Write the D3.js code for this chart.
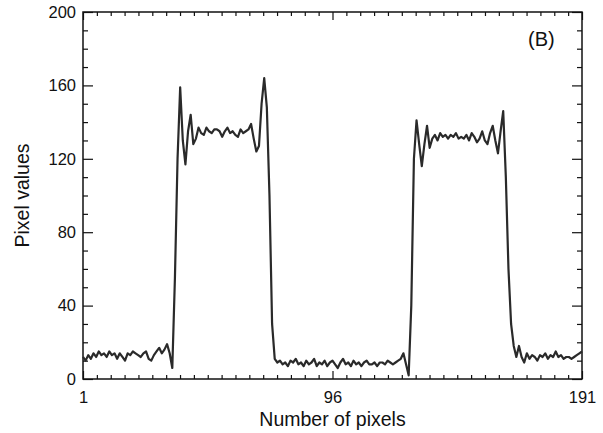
<!DOCTYPE html>
<html>
<head>
<meta charset="utf-8">
<script src="https://cdn.jsdelivr.net/npm/d3@7"></script>
<style>
  body { margin: 0; background: #fff; }
  text { font-family: "Liberation Sans", Arial, sans-serif; fill: #111; }
</style>
</head>
<body>
<svg id="chart" width="603" height="433"></svg>
<script>
// pixel profile values, index 1..191
const baseLeft = [12, 10, 13, 11, 14, 12, 15, 13, 14, 12,
                  15, 13, 14, 11, 14, 12, 10, 14, 13, 15,
                  14, 13, 12, 14, 15, 11, 10, 13, 15, 17,
                  14, 16, 19, 14, 6];
const plateau1 = [55, 120, 159, 130, 117, 135, 144, 128, 131, 137,
                  134, 133, 137, 135, 134, 136, 136, 135, 132, 135,
                  137, 134, 135, 133, 132, 136, 134, 135, 136, 139,
                  131, 124, 127, 150, 164, 148, 100, 30];
const baseMid = [11, 9, 10, 8, 9, 7, 10, 9, 11, 8,
                 9, 7, 10, 8, 9, 11, 7, 9, 8, 10,
                 7, 9, 10, 8, 6, 9, 11, 8, 9, 7,
                 10, 8, 9, 7, 9, 10, 8, 8, 9, 7,
                 9, 9, 8, 10, 9, 8, 9, 10, 11, 14,
                 8, 2];
const plateau2 = [40, 120, 141, 128, 116, 128, 138, 126, 131, 133,
                  130, 134, 132, 133, 131, 133, 132, 134, 131, 132,
                  131, 133, 130, 134, 132, 129, 131, 135, 130, 128,
                  134, 138, 130, 123, 135, 146, 110, 60, 30];
const baseRight = [18, 12, 18, 12, 9, 14, 11, 13, 12, 10,
                   13, 12, 14, 11, 13, 12, 15, 12, 13, 11,
                   12, 12, 11, 12, 13, 14, 15];

const values = [...baseLeft, ...plateau1, ...baseMid, ...plateau2, ...baseRight];
const data = values.map((v, i) => ({px: i + 1, v: v}));

const xMajor = [1, 96, 191];
const xMinor = d3.range(0, 37).map(k => 1 + k * 190 / 36).filter((d, k) => k % 18 !== 0);
const yMajor = [0, 40, 80, 120, 160, 200];
const yMinor = d3.range(0, 201, 10).filter(d => d % 40 !== 0);

const svg = d3.select('#chart');
const width = +svg.attr('width');
const height = +svg.attr('height');
const margin = {left: 83, top: 12, right: 21, bottom: 54};
const w = width - margin.left - margin.right;
const h = height - margin.top - margin.bottom;

const x = d3.scaleLinear().domain([1, 191]).range([0, w]);
const y = d3.scaleLinear().domain([0, 200]).range([h, 0]);

const g = svg.append('g').attr('transform', `translate(${margin.left},${margin.top})`);

function styleAxis(sel) {
    sel.select('.domain').remove();
    sel.selectAll('line').attr('stroke', '#111').attr('stroke-width', 1.2);
    sel.selectAll('text').style('font-size', '16.5px').attr('fill', '#111');
}

// bottom axis
g.append('g').attr('transform', `translate(0,${h})`)
    .call(d3.axisBottom(x).tickValues(xMajor).tickSize(-8).tickPadding(12).tickFormat(d3.format('d')))
    .call(styleAxis);
g.append('g').attr('transform', `translate(0,${h})`)
    .call(d3.axisBottom(x).tickValues(xMinor).tickSize(-4).tickFormat(''))
    .call(styleAxis);
// top axis
g.append('g')
    .call(d3.axisTop(x).tickValues(xMajor).tickSize(-8).tickFormat(''))
    .call(styleAxis);
g.append('g')
    .call(d3.axisTop(x).tickValues(xMinor).tickSize(-4).tickFormat(''))
    .call(styleAxis);
// left axis
g.append('g')
    .call(d3.axisLeft(y).tickValues(yMajor).tickSize(-10).tickPadding(7))
    .call(styleAxis);
g.append('g')
    .call(d3.axisLeft(y).tickValues(yMinor).tickSize(-5).tickFormat(''))
    .call(styleAxis);
// right axis
g.append('g').attr('transform', `translate(${w},0)`)
    .call(d3.axisRight(y).tickValues(yMajor).tickSize(-10).tickFormat(''))
    .call(styleAxis);
g.append('g').attr('transform', `translate(${w},0)`)
    .call(d3.axisRight(y).tickValues(yMinor).tickSize(-5).tickFormat(''))
    .call(styleAxis);

// frame
g.append('rect')
    .attr('width', w)
    .attr('height', h)
    .attr('fill', 'none')
    .attr('stroke', '#111')
    .attr('stroke-width', 1.5);

// profile line
const line = d3.line()
    .x(d => x(d.px))
    .y(d => y(d.v));

g.append('path')
    .datum(data)
    .attr('d', line)
    .attr('fill', 'none')
    .attr('stroke', '#2a2a2a')
    .attr('stroke-width', 2.2)
    .attr('stroke-linejoin', 'round');

// labels
g.append('text')
    .attr('x', 445)
    .attr('y', 34)
    .style('font-size', '20px')
    .text('(B)');

svg.append('text')
    .attr('x', margin.left + w / 2)
    .attr('y', 426)
    .attr('text-anchor', 'middle')
    .style('font-size', '19.5px')
    .text('Number of pixels');

svg.append('text')
    .attr('transform', `translate(29,${margin.top + h / 2}) rotate(-90)`)
    .attr('text-anchor', 'middle')
    .style('font-size', '19.5px')
    .text('Pixel values');
</script>
</body>
</html>
